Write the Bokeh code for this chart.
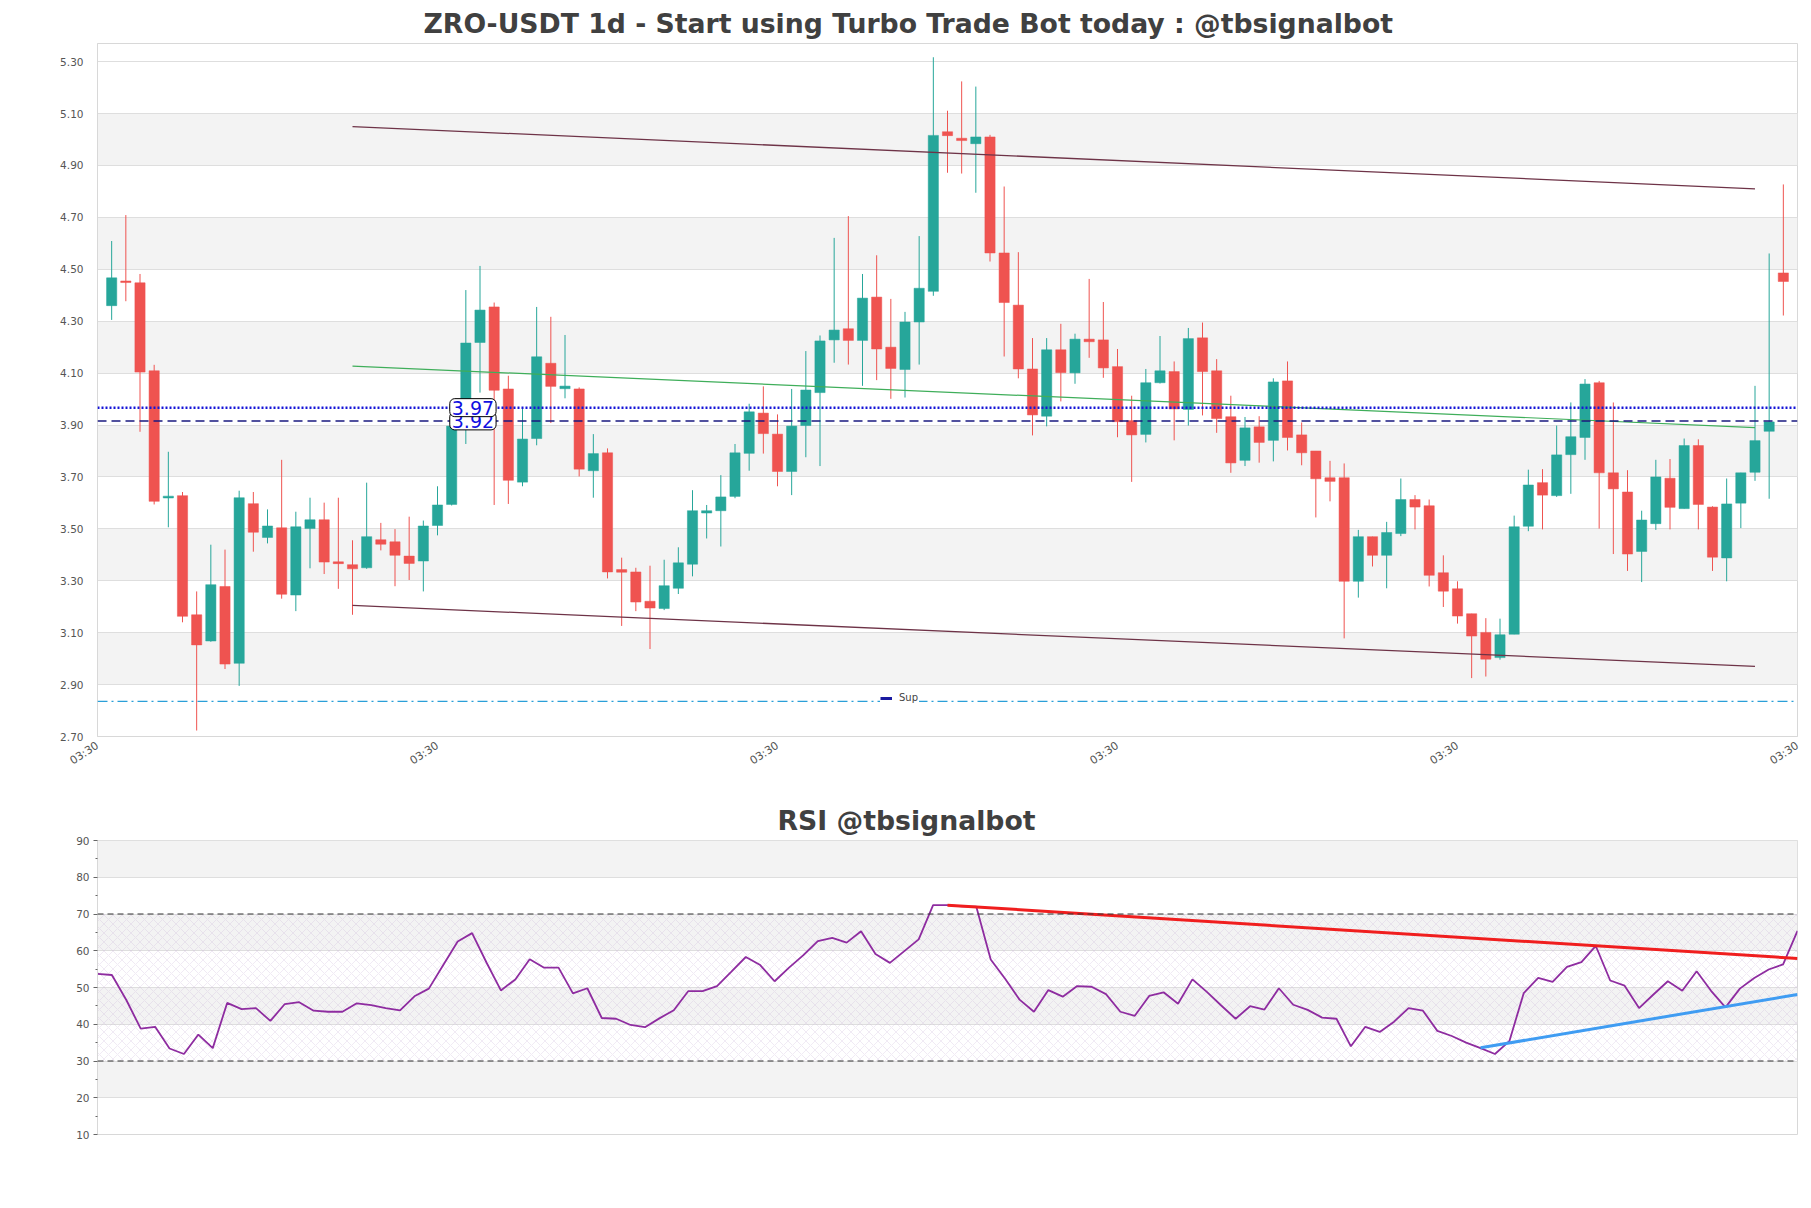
import numpy as np
from bokeh.plotting import figure
from bokeh.layouts import column
from bokeh.models import (ColumnDataSource, FixedTicker, Range1d, Legend, LegendItem,
                          Label, Span, BoxAnnotation, NumeralTickFormatter)
from bokeh.embed import file_html
from bokeh.resources import INLINE

# ---------------- data ----------------
opens = [4.360, 4.455, 4.448, 4.109, 3.619, 3.628, 3.169, 3.068, 3.278, 2.982,
         3.597, 3.467, 3.504, 3.245, 3.501, 3.535, 3.373, 3.362, 3.350, 3.458,
         3.450, 3.395, 3.376, 3.513, 3.594, 3.900, 4.218, 4.355, 4.039, 3.680,
         3.848, 4.138, 4.040, 4.039, 3.724, 3.793, 3.343, 3.334, 3.221, 3.193,
         3.271, 3.364, 3.561, 3.570, 3.625, 3.791, 3.946, 3.865, 3.721, 3.898,
         4.025, 4.228, 4.271, 4.226, 4.393, 4.200, 4.114, 4.297, 4.415, 5.030,
         5.005, 4.984, 5.010, 4.563, 4.362, 4.116, 3.934, 4.190, 4.101, 4.231,
         4.228, 4.125, 3.917, 3.864, 4.063, 4.106, 3.960, 4.236, 4.109, 3.932,
         3.764, 3.893, 3.841, 4.070, 3.862, 3.800, 3.697, 3.697, 3.298, 3.470,
         3.398, 3.482, 3.613, 3.589, 3.331, 3.269, 3.173, 3.101, 3.004, 3.094,
         3.510, 3.678, 3.628, 3.786, 3.852, 4.063, 3.716, 3.642, 3.413, 3.520,
         3.695, 3.578, 3.821, 3.584, 3.388, 3.599, 3.718, 3.876, 4.486]
highs = [4.609, 4.709, 4.482, 4.132, 3.797, 3.642, 3.259, 3.439, 3.420, 3.647,
         3.642, 3.575, 3.766, 3.566, 3.620, 3.601, 3.620, 3.456, 3.678, 3.523,
         3.499, 3.547, 3.532, 3.664, 3.930, 4.420, 4.513, 4.372, 4.090, 3.963,
         4.355, 4.317, 4.247, 4.045, 3.865, 3.810, 3.389, 3.350, 3.358, 3.381,
         3.429, 3.649, 3.592, 3.707, 3.827, 3.982, 4.049, 3.941, 4.039, 4.185,
         4.245, 4.621, 4.705, 4.482, 4.554, 4.386, 4.336, 4.628, 5.317, 5.111,
         5.224, 5.204, 5.018, 4.819, 4.566, 4.235, 4.235, 4.290, 4.252, 4.463,
         4.374, 4.193, 4.013, 4.116, 4.243, 4.145, 4.274, 4.295, 4.154, 4.013,
         3.931, 3.934, 4.080, 4.145, 3.910, 3.800, 3.762, 3.752, 3.496, 3.470,
         3.527, 3.694, 3.630, 3.613, 3.398, 3.298, 3.173, 3.156, 3.154, 3.551,
         3.728, 3.730, 3.898, 3.987, 4.077, 4.070, 3.987, 3.726, 3.570, 3.766,
         3.769, 3.848, 3.845, 3.587, 3.694, 3.716, 4.051, 4.561, 4.827]
lows = [4.305, 4.377, 3.874, 3.594, 3.506, 3.140, 2.723, 3.065, 2.960, 2.895,
        3.412, 3.444, 3.231, 3.183, 3.348, 3.326, 3.269, 3.169, 3.346, 3.417,
        3.279, 3.303, 3.259, 3.475, 3.590, 3.827, 4.025, 3.592, 3.596, 3.664,
        3.822, 3.908, 4.003, 3.702, 3.620, 3.309, 3.126, 3.183, 3.037, 3.187,
        3.249, 3.317, 3.463, 3.432, 3.618, 3.724, 3.790, 3.664, 3.630, 3.776,
        3.742, 4.140, 4.133, 4.051, 4.073, 4.001, 4.006, 4.133, 4.398, 4.872,
        4.869, 4.795, 4.530, 4.164, 4.080, 3.860, 3.895, 3.991, 4.059, 4.159,
        4.082, 3.853, 3.681, 3.833, 4.060, 3.841, 3.898, 3.937, 3.870, 3.716,
        3.742, 3.755, 3.760, 3.802, 3.745, 3.544, 3.606, 3.078, 3.235, 3.355,
        3.271, 3.472, 3.498, 3.278, 3.199, 3.135, 2.925, 2.931, 2.996, 3.094,
        3.491, 3.498, 3.623, 3.635, 3.766, 3.501, 3.403, 3.338, 3.295, 3.496,
        3.498, 3.578, 3.498, 3.338, 3.298, 3.503, 3.685, 3.616, 4.322]
closes = [4.467, 4.449, 4.104, 3.606, 3.626, 3.163, 3.053, 3.285, 2.979, 3.620,
          3.487, 3.511, 3.248, 3.508, 3.535, 3.372, 3.366, 3.346, 3.470, 3.441,
          3.398, 3.367, 3.511, 3.592, 3.896, 4.216, 4.343, 4.034, 3.687, 3.846,
          4.163, 4.049, 4.050, 3.730, 3.790, 3.334, 3.333, 3.218, 3.195, 3.281,
          3.369, 3.570, 3.570, 3.623, 3.793, 3.951, 3.867, 3.721, 3.896, 4.035,
          4.224, 4.266, 4.226, 4.389, 4.193, 4.118, 4.297, 4.427, 5.016, 5.015,
          4.996, 5.010, 4.563, 4.372, 4.116, 3.939, 4.190, 4.102, 4.231, 4.221,
          4.120, 3.913, 3.862, 4.063, 4.109, 3.962, 4.233, 4.106, 3.925, 3.754,
          3.889, 3.833, 4.066, 3.852, 3.793, 3.693, 3.683, 3.298, 3.470, 3.398,
          3.486, 3.613, 3.584, 3.321, 3.260, 3.164, 3.087, 2.998, 3.092, 3.508,
          3.669, 3.630, 3.785, 3.855, 4.058, 3.716, 3.654, 3.403, 3.534, 3.700,
          3.583, 3.821, 3.594, 3.391, 3.596, 3.716, 3.840, 3.912, 4.453]

rsi = [53.7, 53.4, 46.6, 38.8, 39.3, 33.4, 31.9, 37.2, 33.5, 45.8,
       44.1, 44.4, 40.9, 45.5, 46.0, 43.7, 43.4, 43.4, 45.7, 45.2,
       44.4, 43.8, 47.6, 49.7, 56.1, 62.5, 64.8, 56.8, 49.2, 52.2,
       57.7, 55.4, 55.4, 48.4, 49.8, 41.7, 41.5, 39.8, 39.2, 41.6,
       43.8, 49.0, 49.0, 50.4, 54.3, 58.3, 56.1, 51.7, 55.4, 58.8,
       62.6, 63.5, 62.2, 65.3, 59.1, 56.7, 59.9, 63.1, 72.4, 72.4,
       72.1, 72.0, 57.6, 52.4, 46.7, 43.4, 49.3, 47.5, 50.4, 50.2,
       48.2, 43.4, 42.3, 47.7, 48.7, 45.6, 52.2, 48.8, 45.1, 41.5,
       44.9, 44.0, 49.8, 45.3, 43.9, 41.8, 41.5, 34.0, 39.3, 37.9,
       40.7, 44.4, 43.7, 38.2, 36.8, 35.0, 33.5, 31.9, 35.4, 48.5,
       52.6, 51.5, 55.6, 56.9, 61.3, 51.9, 50.5, 44.4, 48.1, 51.7,
       49.1, 54.4, 49.1, 44.6, 49.7, 52.6, 54.9, 56.3, 65.4]

# trend / channel lines (candle index, price)
channel_x = [17, 116]
channel_upper = [5.05, 4.81]
channel_lower = [3.205, 2.97]
channel_mid = [4.127, 3.89]

level_dotted = 3.967
level_dashed = 3.916
level_sup = 2.835
label_x = 25.5

rsi_res_x = [59, 118]
rsi_res_y = [72.4, 57.9]
rsi_sup_x = [96, 118]
rsi_sup_y = [33.6, 48.1]
rsi_levels = [30, 70]

price_ticks = [2.70, 2.90, 3.10, 3.30, 3.50, 3.70, 3.90, 4.10, 4.30, 4.50, 4.70, 4.90, 5.10, 5.30]
rsi_ticks = [10, 20, 30, 40, 50, 60, 70, 80, 90]
x_ticks = [-1, 23, 47, 71, 95, 119]
x_tick_labels = ["03:30", "03:30", "03:30", "03:30", "03:30", "03:30"]

title_main = "ZRO-USDT 1d - Start using Turbo Trade Bot today : @tbsignalbot"
title_rsi = "RSI @tbsignalbot"

UP = "#26a69a"
DOWN = "#ef5350"
FONT = "DejaVu Sans"
BAND = "#f3f3f3"
GRID = "#dedede"

n = len(closes)
xs = list(range(n))
colors = [UP if c >= o else DOWN for o, c in zip(opens, closes)]
tops = [max(o, c) for o, c in zip(opens, closes)]
bots = [min(o, c) for o, c in zip(opens, closes)]
src = ColumnDataSource(dict(x=xs, open=opens, close=closes, high=highs, low=lows,
                            top=tops, bottom=bots, color=colors))

# ---------------- main figure ----------------
p = figure(width=1803, height=775, x_range=Range1d(-1, 119), y_range=Range1d(2.70, 5.37),
           output_backend="svg", toolbar_location=None,
           min_border_left=97, min_border_right=6, min_border_top=43, min_border_bottom=38)
p.title.text = title_main
p.title.align = "left"
p.title.offset = 326
p.title.text_font = FONT
p.title.text_font_size = "26.7px"
p.title.text_font_style = "bold"
p.title.text_color = "#404040"
p.title.standoff = 9
p.outline_line_color = "#d8d8d8"
p.background_fill_color = "white"

for b, t in zip(price_ticks[1::2], price_ticks[2::2]):
    p.add_layout(BoxAnnotation(bottom=b, top=t, fill_color=BAND, fill_alpha=1,
                               line_color=None, level="image"))

p.xgrid.visible = False
p.ygrid.grid_line_color = GRID
p.ygrid.ticker = FixedTicker(ticks=price_ticks)

p.yaxis.ticker = FixedTicker(ticks=price_ticks)
p.yaxis.formatter = NumeralTickFormatter(format="0.00")
p.yaxis.major_tick_line_color = None
p.yaxis.minor_tick_line_color = None
p.yaxis.axis_line_color = "#d8d8d8"
p.yaxis.major_label_text_font = FONT
p.yaxis.major_label_text_font_size = "10.5px"
p.yaxis.major_label_text_color = "#555555"
p.yaxis.major_label_standoff = 8

p.xaxis.ticker = FixedTicker(ticks=x_ticks)
p.xaxis.major_label_overrides = {t: l for t, l in zip(x_ticks, x_tick_labels)}
p.xaxis.major_label_orientation = 0.58
p.xaxis.major_tick_line_color = None
p.xaxis.minor_tick_line_color = None
p.xaxis.axis_line_color = "#d8d8d8"
p.xaxis.major_label_text_font = FONT
p.xaxis.major_label_text_font_size = "11px"
p.xaxis.major_label_text_color = "#555555"
p.xaxis.major_label_standoff = 2

p.segment(x0="x", y0="low", x1="x", y1="high", line_color="color", line_width=1, source=src)
p.vbar(x="x", width=0.72, top="top", bottom="bottom", fill_color="color",
       line_color="color", line_width=0.5, source=src)

p.line(channel_x, channel_upper, line_color="#6e3347", line_width=1.3)
p.line(channel_x, channel_lower, line_color="#6e3347", line_width=1.3)
p.line(channel_x, channel_mid, line_color="#3fae5a", line_width=1.2)

p.add_layout(Span(location=level_dotted, dimension="width", line_color="#1515d8",
                  line_width=2.5, line_dash="2 2"))
p.add_layout(Span(location=level_dashed, dimension="width", line_color="#1a1a80",
                  line_width=1.5, line_dash="9 5"))
p.add_layout(Span(location=level_sup, dimension="width", line_color="#2a9fd8",
                  line_width=1.2, line_dash="10 4 2 4"))

for val in [level_dashed, level_dotted]:
    p.add_layout(Label(x=label_x, y=val, text="%.2f" % val, text_align="center",
                       text_baseline="middle", text_color="#1010e0", text_font=FONT,
                       text_font_size="19px", background_fill_color="white",
                       border_line_color="black", border_line_width=1,
                       border_radius=5, padding=2))

dummy = p.line(x=[np.nan, np.nan], y=[np.nan, np.nan], line_color="#1a1aa0", line_width=3)
legend = Legend(items=[LegendItem(label="Sup", renderers=[dummy])], location=(783, 33),
                background_fill_color="white", background_fill_alpha=1,
                border_line_color=None, label_text_font=FONT, label_text_font_size="10px",
                glyph_width=12, glyph_height=10, padding=5, margin=0, label_standoff=7,
                label_height=10)
p.add_layout(legend)

# ---------------- RSI figure ----------------
q = figure(width=1803, height=415, x_range=Range1d(0, 118), y_range=Range1d(10, 90),
           output_backend="svg", toolbar_location=None,
           min_border_left=97, min_border_right=6, min_border_top=65, min_border_bottom=56)
q.title.text = title_rsi
q.title.align = "left"
q.title.offset = 680
q.title.text_font = FONT
q.title.text_font_size = "26.7px"
q.title.text_font_style = "bold"
q.title.text_color = "#404040"
q.title.standoff = 9.5
q.outline_line_color = "#d8d8d8"

for b, t in zip(rsi_ticks[1::2], rsi_ticks[2::2]):
    q.add_layout(BoxAnnotation(bottom=b, top=t, fill_color=BAND, fill_alpha=1,
                               line_color=None, level="image"))
q.add_layout(BoxAnnotation(bottom=rsi_levels[0], top=rsi_levels[1], fill_alpha=0,
                           line_color=None, hatch_pattern="diagonal_cross",
                           hatch_color="#c8b4d6", hatch_alpha=0.55, hatch_scale=9,
                           hatch_weight=0.5, level="underlay"))

q.xgrid.visible = False
q.ygrid.grid_line_color = GRID
q.ygrid.ticker = FixedTicker(ticks=rsi_ticks)
q.xaxis.visible = False

q.yaxis.ticker = FixedTicker(ticks=rsi_ticks,
                             minor_ticks=[t + 5 for t in rsi_ticks[:-1]])
q.yaxis.axis_line_color = "#d8d8d8"
q.yaxis.major_tick_line_color = "#666666"
q.yaxis.major_tick_out = 4
q.yaxis.major_tick_in = 0
q.yaxis.minor_tick_line_color = "#666666"
q.yaxis.minor_tick_out = 2
q.yaxis.minor_tick_in = 0
q.yaxis.major_label_text_font = FONT
q.yaxis.major_label_text_font_size = "10.5px"
q.yaxis.major_label_text_color = "#555555"
q.yaxis.major_label_standoff = 4

for lv in rsi_levels:
    q.add_layout(Span(location=lv, dimension="width", line_color="#333333",
                      line_width=1.2, line_dash="6 4"))

q.line(xs, rsi, line_color="#8e2ca0", line_width=1.8)
q.line(rsi_res_x, rsi_res_y, line_color="#f01e1e", line_width=3)
q.line(rsi_sup_x, rsi_sup_y, line_color="#3f9cf2", line_width=3)

layout = column(p, q, spacing=0)
open("out.html", "w").write(file_html(layout, INLINE))
